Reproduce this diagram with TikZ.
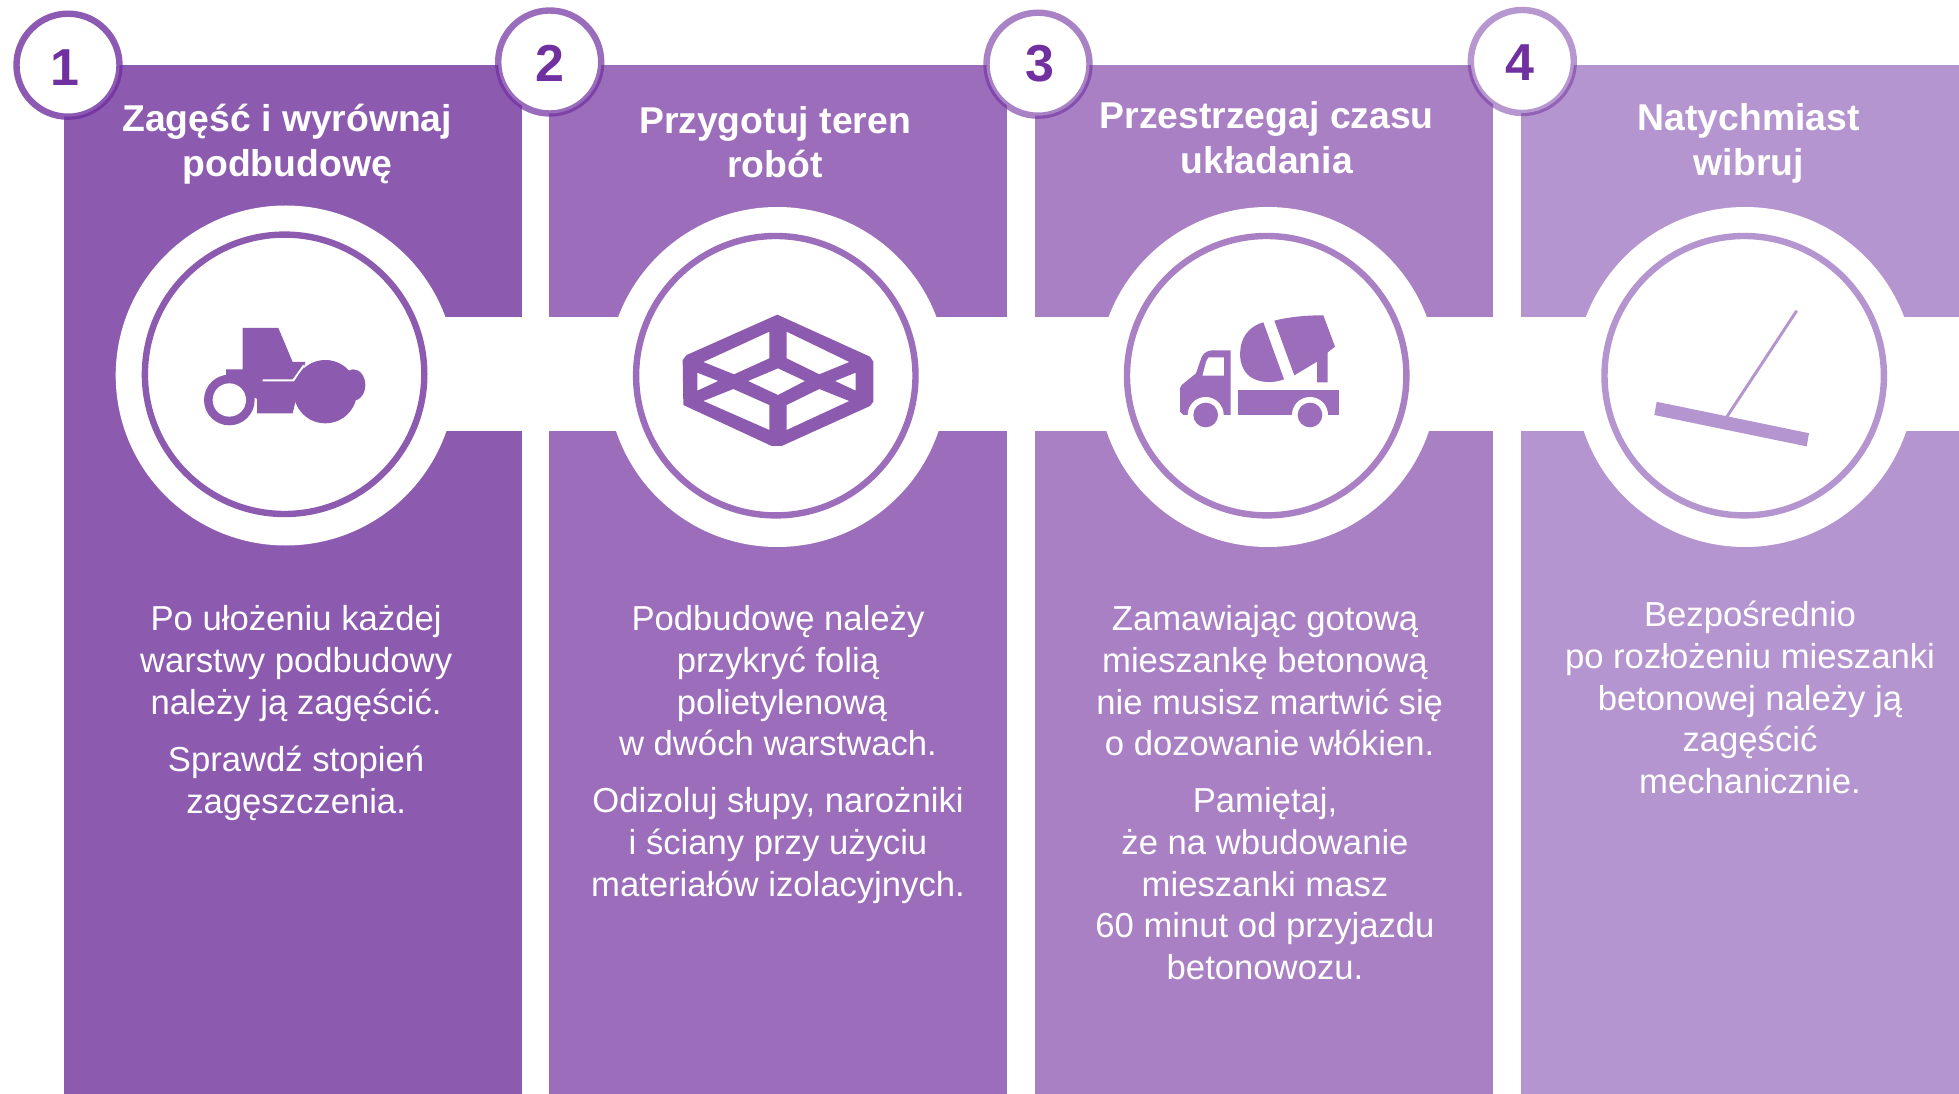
\documentclass[tikz,border=0pt]{standalone}
\usepackage{fontspec}
\setmainfont{Liberation Sans}
\definecolor{base}{HTML}{7030A0}
\definecolor{pa}{HTML}{8C5BB0}
\definecolor{pb}{HTML}{9B6DBA}
\definecolor{pc}{HTML}{A980C3}
\definecolor{pd}{HTML}{B595CF}
\tikzset{
  panel/.style={fill=#1,draw=none},
  disc/.style={fill=white,draw=none},
  bigring/.style={draw=#1,line width=4.8pt,fill=white},
  numring/.style={draw=base,draw opacity=#1,line width=4.8pt,fill=white},
  digit/.style={font=\fontsize{39}{44}\selectfont\bfseries,text=base,inner sep=0pt,anchor=center},
  head/.style={font=\fontsize{28}{33.6}\selectfont\bfseries,text=white,align=center,anchor=north,inner sep=0pt,execute at begin node=\strut},
  body/.style={font=\fontsize{26}{31.4}\selectfont,text=white,align=center,anchor=north,inner sep=0pt,execute at begin node=\strut},
}
\begin{document}
\begin{tikzpicture}[x=0.75pt,y=-0.75pt]
\useasboundingbox (0,0) rectangle (1959,1094);
\fill[white] (0,0) rectangle (1959,1094);
% panels
\path[panel=pa] (64.3,64.8) rectangle (522,1094);
\path[panel=pb] (549,64.8) rectangle (1007,1094);
\path[panel=pc] (1035,64.8) rectangle (1493,1094);
\path[panel=pd] (1521,64.8) rectangle (1959,1094);
% white band
\fill[white] (285,317) rectangle (1959,431);
% large discs
\path[disc] (285.7,375.5) circle (170);
\path[disc] (777.3,377) circle (170);
\path[disc] (1267.7,377) circle (170);
\path[disc] (1745,377) circle (170);
% inner rings
\path[bigring=pa] (284.6,374.3) circle (139.7);
\path[bigring=pb] (775.8,375.7) circle (139.7);
\path[bigring=pc] (1266.7,375.7) circle (139.7);
\path[bigring=pd] (1744.2,375.7) circle (139.7);
% roller
\begin{scope}[shift={(180,300)},scale=1/3]
  \fill[pa] (188,84)--(295,84)--(338,186)--(376,186)--(350,290)--(338,340)--(230,340)--(230,295)--(200,290)--(138,225)--(138,208)--(188,208)--cycle;
  \fill[pa] (148,300) circle (76);
  \fill[white] (148,300) circle (50);
  \fill[white] (224,296) rectangle (230,345);
  \draw[white,line width=1.5pt] (248,241)--(340,241)--(372,196);
  \fill[pa] (436,275) circle (95);
  \fill[pa] (520,255) ellipse (36 and 47);
\end{scope}
% box
\begin{scope}[shift={(660,300)},scale=1/3]
  \fill[pa,even odd rule] (352,44)--(630,170)--(640,185)--(640,305)--(630,318)--(365,438)--(335,438)--(70,315)--(68,180)--(80,165)--cycle
   (328,95)--(328,175)--(222,223)--(130,186)--cycle
   (380,95)--(568,186)--(478,223)--(380,175)--cycle
   (354,205)--(435,243)--(354,285)--(264,243)--cycle
   (112,218)--(175,243)--(112,272)--cycle
   (587,218)--(587,272)--(525,243)--cycle
   (130,303)--(220,267)--(328,315)--(328,390)--cycle
   (380,315)--(478,267)--(568,303)--(380,390)--cycle;
\end{scope}
% truck
\begin{scope}[shift={(1160,290)},scale=1/3]
  \fill[pb,even odd rule] (212,181)--(160,181) .. controls (135,181) and (125,195) .. (120,215)--(108,250)--(65,285)--(60,295)--(60,365)--(70,375)--(212,375)--cycle
    (145,202)--(192,202)--(192,257)--(127,257)--(138,215)--cycle;
  \fill[pb] (234,299) rectangle (537,375);
  \fill[white] (137,375) circle (54) (450,375) circle (54);
  \fill[white] (80,376) rectangle (200,420) (390,376) rectangle (510,420);
  \fill[pb] (137,375) circle (37) (450,375) circle (37);
  \fill[pb] (310,97)--(372,268) .. controls (340,280) and (300,280) .. (270,260) .. controls (245,240) and (238,210) .. (241,180) .. controls (245,130) and (280,105) .. (310,97)--cycle;
  \fill[pb] (343,92) .. controls (390,80) and (440,76) .. (490,76)--(525,170)--(503,187)--(503,277)--(471,277)--(471,215)--(403,256)--cycle;
\end{scope}
% screed
\fill[pd] (1656.7,401.8)--(1809,433.2)--(1806.7,446.4)--(1654.3,415)--cycle;
\draw[pd,line width=2.2pt] (1796.7,310.7)--(1726.7,417);
% number rings
\path[numring=0.8] (68,65.2) circle (51.5);
\path[numring=0.7] (549.7,62) circle (51.5);
\path[numring=0.6] (1038,64.2) circle (51.5);
\path[numring=0.5] (1522.3,61.5) circle (51.5);
\node[digit] (n1) at (64.5,67.5) {1};
\node[digit] (n2) at (549.7,63) {2};
\node[digit] (n3) at (1039.5,64) {3};
\node[digit] (n4) at (1520,63) {4};
% headings
\node[head] (h1) at (287.2,104.3) {Zagęść i wyrównaj\\podbudowę};
\node[head] (h2) at (775,105.8) {Przygotuj teren\\robót};
\node[head] (h3) at (1266.8,101.5) {Przestrzegaj czasu\\układania};
\node[head] (h4) at (1748.8,103.6) {Natychmiast\\wibruj};
% body
\node[body] (b1a) at (296.1,605) {Po ułożeniu każdej\\warstwy podbudowy\\należy ją zagęścić.};
\node[body] (b1b) at (296.1,746.2) {Sprawdź stopień\\zagęszczenia.};
\node[body] (b2a) at (778,605) {Podbudowę należy\\przykryć folią\\\hspace*{6pt}polietylenową\\w dwóch warstwach.};
\node[body] (b2b) at (778,787) {Odizoluj słupy, narożniki\\i ściany przy użyciu\\materiałów izolacyjnych.};
\node[body] (b3a) at (1265,605) {Zamawiając gotową\\mieszankę betonową\\\hspace*{7pt}nie musisz martwić się\\\hspace*{7pt}o dozowanie włókien.};
\node[body] (b3b) at (1265,787) {Pamiętaj,\\że na wbudowanie\\mieszanki masz\\60 minut od przyjazdu\\betonowozu.};
\node[body] (b4) at (1750,600.5) {Bezpośrednio\\po rozłożeniu mieszanki\\betonowej należy ją\\zagęścić\\mechanicznie.};
\end{tikzpicture}
\end{document}
